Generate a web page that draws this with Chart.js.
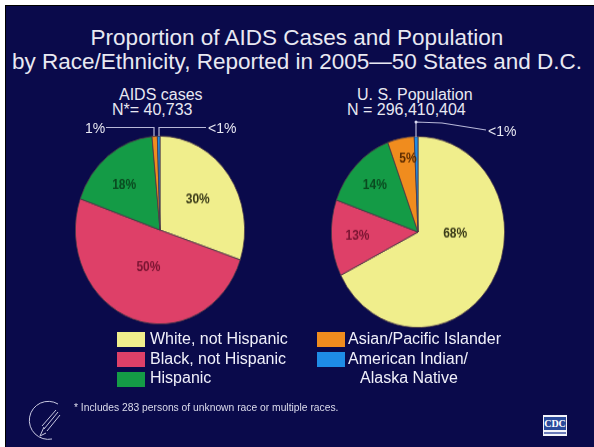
<!DOCTYPE html>
<html>
<head>
<meta charset="utf-8">
<script src="https://cdn.jsdelivr.net/npm/chart.js@4/dist/chart.umd.min.js"></script>
<style>
  html,body{margin:0;padding:0;background:#fff;}
  #page{position:relative;width:594px;height:447px;overflow:hidden;background:#fff;font-family:"Liberation Sans",Arial,sans-serif;}
  #slide{position:absolute;left:5px;top:5px;width:589px;height:442px;background:#0a0a4b;border-left:1px solid #000;border-top:1px solid #000;box-sizing:border-box;}
  .t{position:absolute;white-space:nowrap;color:#e8e8f2;line-height:1;}
  .pie{position:absolute;transform-origin:50% 50%;}
  .box{position:absolute;width:28px;height:15px;}
  .lg{position:absolute;white-space:nowrap;color:#f0f0fa;font-size:16px;line-height:1;}
</style>
</head>
<body>
<div id="page">
  <div id="slide"></div>
  <div class="t" style="left:0;width:594px;text-align:center;top:27px;font-size:22.5px;">Proportion of AIDS Cases and Population</div>
  <div class="t" style="left:0;width:594px;text-align:center;top:51px;font-size:22.5px;">by Race/Ethnicity, Reported in 2005—50 States and D.C.</div>

  <div class="t" style="left:119px;top:87px;font-size:16px;">AIDS cases</div>
  <div class="t" style="left:112px;top:102px;font-size:16px;">N*= 40,733</div>
  <div class="t" style="left:357px;top:87px;font-size:16px;">U. S. Population</div>
  <div class="t" style="left:347px;top:102px;font-size:16px;">N = 296,410,404</div>

  <div class="pie" id="pieA" style="left:74px;top:144px;width:172px;height:172px;transform:scaleY(1.11);"><canvas id="cA" width="172" height="172"></canvas></div>
  <div class="pie" id="pieB" style="left:330px;top:144px;width:176px;height:176px;transform:scaleY(1.103);"><canvas id="cB" width="176" height="176"></canvas></div>

  <svg style="position:absolute;left:0;top:0" width="594" height="447">
    <g stroke="#b8b8d8" stroke-width="1.2" fill="none">
      <polyline points="106,127.5 154,127.5 154,136"/>
      <polyline points="206,127.5 159,127.5 159,136"/>
      <polyline points="416,137 416,122 442,123 486,130"/>
    </g>
    <circle cx="416" cy="122" r="1.5" fill="#d8d8f0"/>
    <!-- HHS logo -->
    <g stroke="#c8c8e0" fill="none" stroke-width="1">
      <path d="M58,404 A19,19 0 1 0 52,439"/>
      <path d="M56,410 L42,426 M58,412 L44,429 M60,415 L47,431 M44,427 L40,436 M40,436 L46,433"/>
    </g>
  </svg>

  <div class="t" id="calA1" style="left:85px;top:121px;font-size:14px;"></div>
  <div class="t" id="calA2" style="left:208px;top:121px;font-size:14px;"></div>
  <div class="t" id="calB1" style="left:488px;top:124px;font-size:14px;"></div>

  <div class="box" style="left:117px;top:332px;background:#f0ee8c"></div>
  <div class="box" style="left:117px;top:352px;background:#de4068"></div>
  <div class="box" style="left:117px;top:372px;background:#149b46"></div>
  <div class="lg" style="left:150px;top:331px;">White, not Hispanic</div>
  <div class="lg" style="left:150px;top:351px;">Black, not Hispanic</div>
  <div class="lg" style="left:150px;top:370px;">Hispanic</div>
  <div class="box" style="left:317px;top:332px;background:#f08c1e"></div>
  <div class="box" style="left:317px;top:352px;background:#1e8ce6"></div>
  <div class="lg" style="left:348px;top:331px;">Asian/Pacific Islander</div>
  <div class="lg" style="left:348px;top:351px;">American Indian/</div>
  <div class="lg" style="left:360px;top:370px;">Alaska Native</div>

  <div class="t" style="left:74px;top:403px;font-size:10.3px;color:#dcdcec;">* Includes 283 persons of unknown race or multiple races.</div>

  <div style="position:absolute;left:543px;top:415px;width:24px;height:21px;background:#f4f4fa;">
    <div style="position:absolute;left:1px;top:2px;width:22px;height:13px;background:#2a4a9a;color:#fff;font:bold 10px 'Liberation Serif',serif;text-align:center;line-height:13px;">CDC</div>
    <div style="position:absolute;left:1px;top:17px;width:22px;height:2px;background:#6a7ab8;"></div>
  </div>
</div>

<script>
// ---- data ----
const categories = ["White, not Hispanic", "Black, not Hispanic", "Hispanic", "Asian/Pacific Islander", "American Indian/Alaska Native"];
const aidsCases = [30, 50, 18, 1, 0.5];
const usPopulation = [68, 13, 14, 5, 0.7];
const sliceColors = ["#f0ee8c", "#de4068", "#149b46", "#f08c1e", "#1e8ce6"];
const labelColors = ["#3a3a18", "#7a1432", "#0a4a20", "#5a2a00", "#0a2a5a"];

function pctText(v){ return v < 1 ? "<1%" : Math.round(v) + "%"; }

const sliceLabels = {
  id: "sliceLabels",
  afterDatasetsDraw(chart, args, opts) {
    const ctx = chart.ctx;
    const meta = chart.getDatasetMeta(0);
    const vals = chart.data.datasets[0].data;
    ctx.save();
    ctx.font = "bold 12px 'Liberation Sans', Arial, sans-serif";
    ctx.textAlign = "center";
    ctx.textBaseline = "middle";
    meta.data.forEach((arc, i) => {
      if (vals[i] < 3) return;
      const p = arc.getProps(["x","y","startAngle","endAngle","outerRadius"], true);
      const a = (p.startAngle + p.endAngle) / 2 + (opts.shift ? opts.shift[i] : 0);
      const r = p.outerRadius * opts.radius[i];
      ctx.fillStyle = labelColors[i];
      ctx.fillText(pctText(vals[i]), p.x + Math.cos(a) * r, p.y + Math.sin(a) * r);
    });
    ctx.restore();
  }
};

function makePie(id, values, radii, shift) {
  return new Chart(document.getElementById(id), {
    type: "pie",
    data: {
      labels: categories,
      datasets: [{
        data: values,
        backgroundColor: sliceColors,
        borderColor: "#4a3848",
        borderWidth: 0.8
      }]
    },
    options: {
      responsive: false,
      animation: false,
      rotation: 0,
      layout: { padding: 1 },
      plugins: {
        legend: { display: false },
        tooltip: { enabled: false },
        sliceLabels: { radius: radii, shift: shift }
      }
    },
    plugins: [sliceLabels]
  });
}

makePie("cA", aidsCases, [0.55, 0.42, 0.64, 0, 0], [0, 0, -0.06, 0, 0]);
makePie("cB", usPopulation, [0.43, 0.7, 0.7, 0.78, 0], [-0.5, 0, 0, 0.05, 0]);

document.getElementById("calA1").textContent = pctText(aidsCases[3]);
document.getElementById("calA2").textContent = pctText(aidsCases[4]);
document.getElementById("calB1").textContent = pctText(usPopulation[4]);
</script>
</body>
</html>
